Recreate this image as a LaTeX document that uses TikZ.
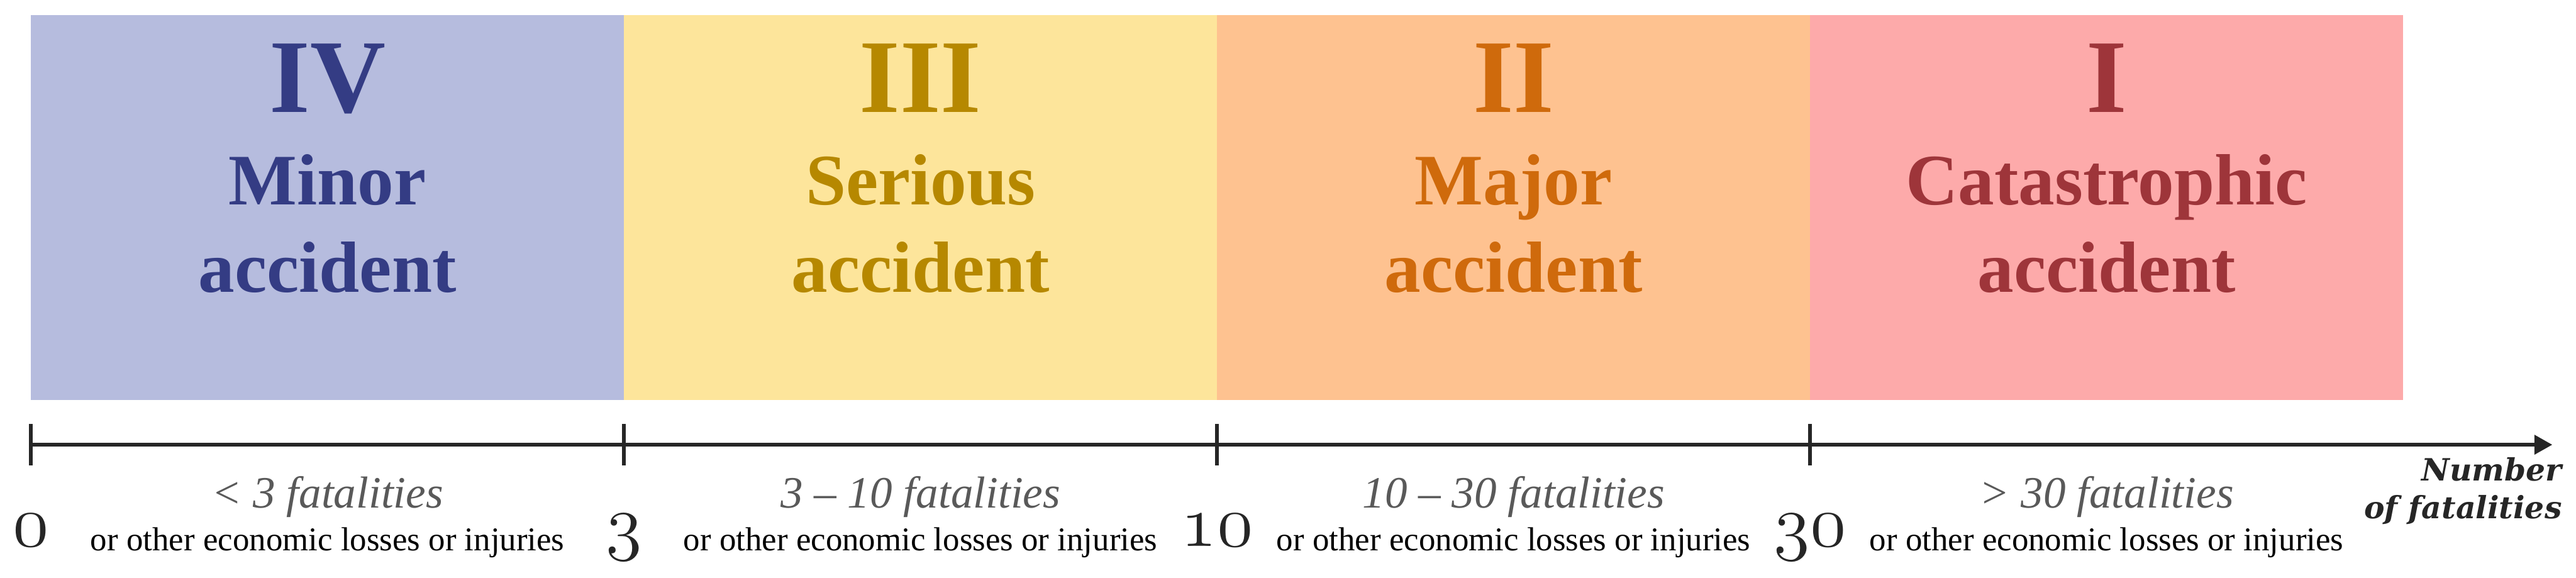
\documentclass[tikz,border=0pt]{standalone}
\usepackage{fontspec}
\setmainfont{Liberation Serif}
\newfontfamily\axisfont{DejaVu Serif}
\usetikzlibrary{arrows.meta}

\definecolor{fillA}{HTML}{B6BCDE}
\definecolor{fillB}{HTML}{FDE59B}
\definecolor{fillC}{HTML}{FEC290}
\definecolor{fillD}{HTML}{FDAAAA}
\definecolor{inkA}{HTML}{343C84}
\definecolor{inkB}{HTML}{B68800}
\definecolor{inkC}{HTML}{CF6A0C}
\definecolor{inkD}{HTML}{9E353A}
\definecolor{axisgray}{HTML}{262626}
\definecolor{rangegray}{HTML}{595959}

\begin{document}
\begin{tikzpicture}[
    numeral/.style={font=\fontsize{24.5}{24.5}\selectfont\bfseries, anchor=base, inner sep=0pt},
    cls/.style={font=\fontsize{17}{20}\selectfont\bfseries, anchor=base, inner sep=0pt},
    rng/.style={font=\fontsize{10.5}{12}\selectfont\itshape, text=rangegray, anchor=base, inner sep=0pt},
    note/.style={font=\fontsize{7.8}{9}\selectfont, anchor=base, inner sep=0pt},
    val/.style={font=\fontsize{17.28}{18}\usefont{OML}{cmm}{m}{it}, text=axisgray, anchor=base, inner sep=0pt},
    axlbl/.style={font=\axisfont\bfseries\itshape\fontsize{7.2}{8.8}\selectfont, text=axisgray, anchor=base east, inner sep=0pt},
    axisline/.style={line width=0.95pt, draw=axisgray},
]
\useasboundingbox (0,0) rectangle (21.23,4.76);

% class bands
\fill[fillA] (0.255,1.465) rectangle (5.1425,4.635);
\fill[fillB] (5.1425,1.465) rectangle (10.03,4.635);
\fill[fillC] (10.03,1.465) rectangle (14.9175,4.635);
\fill[fillD] (14.9175,1.465) rectangle (19.805,4.635);

\node[numeral, text=inkA] (numIV) at (2.699,3.835) {IV};
\node[cls, text=inkA] (clsIVa) at (2.699,3.075) {Minor};
\node[cls, text=inkA] (clsIVb) at (2.699,2.35) {accident};
\node[numeral, text=inkB] (numIII) at (7.586,3.835) {III};
\node[cls, text=inkB] (clsIIIa) at (7.586,3.075) {Serious};
\node[cls, text=inkB] (clsIIIb) at (7.586,2.35) {accident};
\node[numeral, text=inkC] (numII) at (12.474,3.835) {II};
\node[cls, text=inkC] (clsIIa) at (12.474,3.075) {Major};
\node[cls, text=inkC] (clsIIb) at (12.474,2.35) {accident};
\node[numeral, text=inkD] (numI) at (17.361,3.835) {I};
\node[cls, text=inkD] (clsIa) at (17.361,3.075) {Catastrophic};
\node[cls, text=inkD] (clsIb) at (17.361,2.35) {accident};

% axis
\coordinate (t0) at (0.255,1.095);
\coordinate (t3) at (5.1425,1.095);
\coordinate (t10) at (10.03,1.095);
\coordinate (t30) at (14.9175,1.095);
\coordinate (tip) at (21.035,1.095);
\draw[axisline, -{Triangle[length=4.2pt, width=4.4pt]}] (t0) -- (tip);
\draw[axisline] ([yshift=0.17cm]t0) -- ([yshift=-0.17cm]t0);
\draw[axisline] ([yshift=0.17cm]t3) -- ([yshift=-0.17cm]t3);
\draw[axisline] ([yshift=0.17cm]t10) -- ([yshift=-0.17cm]t10);
\draw[axisline] ([yshift=0.17cm]t30) -- ([yshift=-0.17cm]t30);

\node[val] (v0) at (0.255,0.26) {0};
\node[val] (v3) at (5.1425,0.26) {3};
\node[val] (v10) at (10.03,0.26) {10};
\node[val] (v30) at (14.9175,0.26) {30};

\node[rng] (rIV) at (2.699,0.575) {< 3 fatalities};
\node[note] (nIV) at (2.699,0.22) {or other economic losses or injuries};
\node[rng] (rIII) at (7.586,0.575) {3 – 10 fatalities};
\node[note] (nIII) at (7.586,0.22) {or other economic losses or injuries};
\node[rng] (rII) at (12.474,0.575) {10 – 30 fatalities};
\node[note] (nII) at (12.474,0.22) {or other economic losses or injuries};
\node[rng] (rI) at (17.361,0.575) {> 30 fatalities};
\node[note] (nI) at (17.361,0.22) {or other economic losses or injuries};

\node[axlbl] (axA) at (21.12,0.795) {Number};
\node[axlbl] (axB) at (21.12,0.485) {of fatalities};
\end{tikzpicture}
\end{document}
